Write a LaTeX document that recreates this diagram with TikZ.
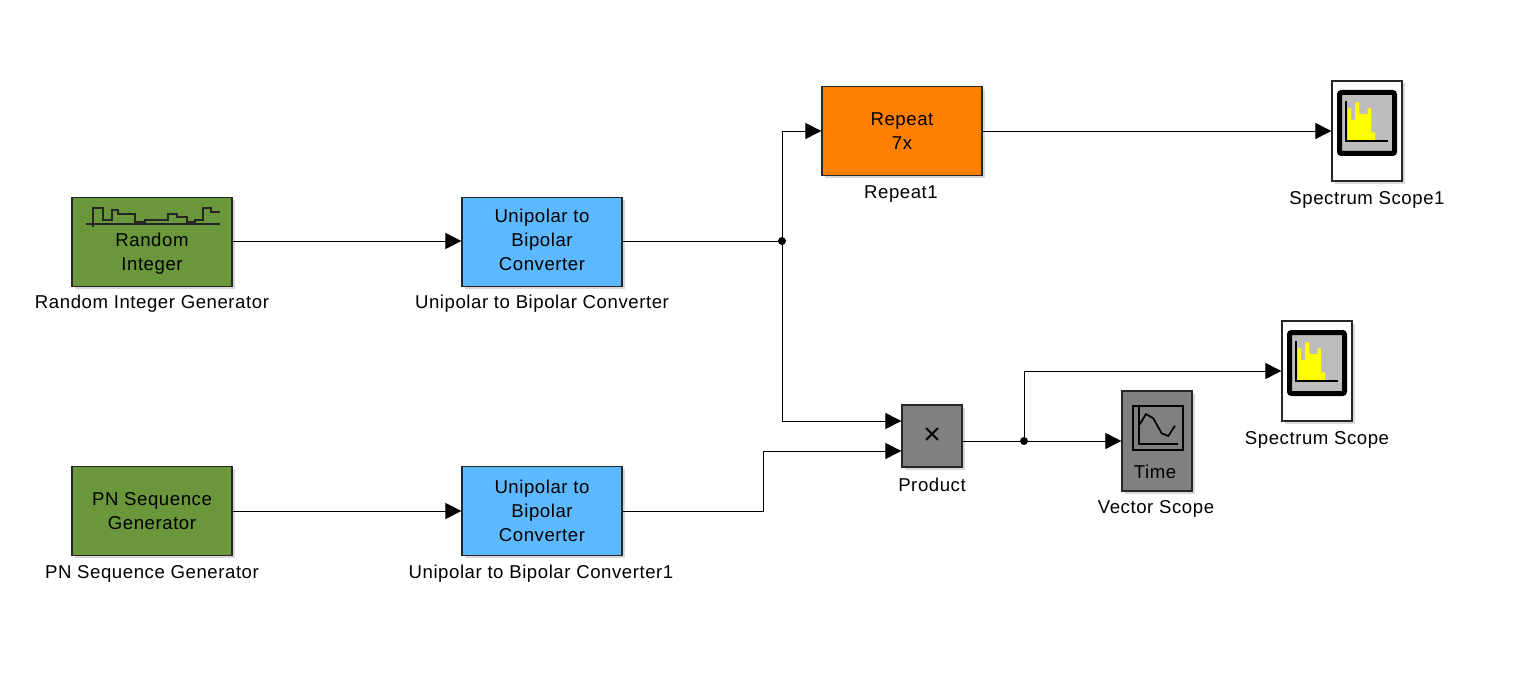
\documentclass[tikz,border=0pt]{standalone}
\usepackage{fontspec}
\setmainfont[LetterSpace=3]{Liberation Sans}
\usetikzlibrary{arrows.meta,shadows}
\definecolor{gengreen}{HTML}{6A963C}
\definecolor{convblue}{HTML}{5CB8FF}
\definecolor{reporange}{HTML}{FF7F00}
\definecolor{sinkgray}{HTML}{808080}
\definecolor{iconyellow}{HTML}{FFFF00}
\definecolor{icongray}{HTML}{BDBDBD}
\tikzset{
  block/.style={draw=black!85, line width=1.3pt, inner sep=0pt, align=center,
    text=black, drop shadow={shadow xshift=2.5pt, shadow yshift=-2.5pt, fill=black!30, opacity=0.5}},
  bigblock/.style={block, minimum width=160pt, minimum height=89pt},
  scopeblock/.style={block, minimum width=70pt, minimum height=100pt},
  caption/.style={inner sep=0pt, text=black},
  blocktext/.style={inner sep=0pt, align=center, text=black},
  wire/.style={line width=0.9pt, line join=miter},
  feed/.style={wire, -{Triangle[length=16pt,width=16pt]}},
  joint/.style={circle, fill=black, inner sep=0pt, minimum size=8pt}
}
% the bar chart icon, drawn from the middle of a spectrum scope
\newcommand{\specicon}[1]{%
  \begin{scope}[shift={(#1.center)}]
    \draw[black, line width=5pt, fill=icongray, rounded corners=2pt] (-27.5,-38.5) rectangle (27.5,22.5);
    \fill[iconyellow] (-19.3,9) -- (-19.3,-22.7) -- (-16,-22.7) -- (-16,-11) -- (-12,-11) -- (-12,-28.7)
      -- (-7.7,-28.7) -- (-7.7,-17) -- (0.7,-17) -- (0.7,-22.7) -- (4,-22.7) -- (4,1.3) -- (8,1.3) -- (8,9) -- cycle;
    \draw[black, line width=1.3pt] (-21,-30) -- (-21,10) -- (21,10);
  \end{scope}}
\begin{document}
\begin{tikzpicture}[x=1pt, y=-1pt, font=\fontsize{18.6}{24}\selectfont, >=Stealth]
\useasboundingbox (0,0) rectangle (1521,682);
% sources and converters
\node[bigblock, fill=gengreen] (randgen) at (152,242) {};
\node[bigblock, fill=gengreen] (pngen) at (152,511) {PN Sequence\\Generator};
\node[bigblock, fill=convblue] (conv) at (542,242) {};
\node[bigblock, fill=convblue] (convone) at (542,511) {Unipolar to\\Bipolar\\Converter};
\node[bigblock, fill=reporange] (rep) at (902,131) {Repeat\\7x};
\node[block, fill=sinkgray, minimum width=60pt, minimum height=62pt, font=\fontsize{30}{30}\selectfont] (prod) at (932,436) {×};
% sinks
\node[scopeblock, fill=sinkgray] (vec) at (1157,441) {};
\node[scopeblock, fill=white] (specone) at (1367,131) {};
\node[scopeblock, fill=white] (spec) at (1317,371) {};
\specicon{specone}
\specicon{spec}
% texts set by hand inside the blocks
\node[blocktext] (randtxt) at (152,254) {Random\\Integer};
\node[blocktext] (convtxt) at (542,240) {Unipolar to\\Bipolar\\Converter};
\node[blocktext] (vectxt) at (1155,472) {Time};
% random integer icon
\begin{scope}[shift={(60,185)}, scale=1/3]
  \draw[black!85, line width=1.8pt] (98,125) |- (128,68) |- (155,105) |- (175,75) |- (225,88) |- (255,112) |- (325,105)
    |- (352,88) |- (382,95) |- (405,112) |- (428,105) |- (452,68) |- (480,80);
  \draw[black!85, line width=1.8pt] (78,117) -- (480,117);
\end{scope}
% time scope icon
\begin{scope}[shift={(880,310)}, scale=1/3]
  \draw[black, line width=1.7pt] (758,288) rectangle (910,420);
  \draw[black, line width=1.7pt] (778,288) -- (778,403) -- (893,403);
  \draw[black, line width=1.7pt] (778,345) -- (798,312) -- (820,325) -- (845,370) -- (865,378) -- (885,347);
\end{scope}
% captions
\node[caption] (randcap) at (152,304) {Random Integer Generator};
\node[caption] (convcap) at (542,304) {Unipolar to Bipolar Converter};
\node[caption] (pncap) at (152,574) {PN Sequence Generator};
\node[caption] (convonecap) at (541,574) {Unipolar to Bipolar Converter1};
\node[caption] (repcap) at (901,194) {Repeat1};
\node[caption] (speconecap) at (1367,200) {Spectrum Scope1};
\node[caption] (speccap) at (1317,440) {Spectrum Scope};
\node[caption] (prodcap) at (932,485) {Product};
\node[caption] (veccap) at (1156,509) {Vector Scope};
% ports and junctions
\node[joint] (jtop) at (782,241) {};
\node[joint] (jout) at (1024,441) {};
\coordinate (prodina) at (prod.west |- 0,421);
\coordinate (prodinb) at (prod.west |- 0,451);
\coordinate (prodout) at (prod.east |- jout);
\coordinate (bend) at (763,511);
% wires
\draw[feed] (randgen.east |- jtop) -- (conv.west |- jtop);
\draw[feed] (pngen.east) -- (convone.west);
\draw[wire] (conv.east |- jtop) -- (jtop);
\draw[feed] (jtop) |- (rep.west);
\draw[feed] (jtop) |- (prodina);
\draw[feed] (convone.east) -- (bend) |- (prodinb);
\draw[feed] (rep.east) -- (specone.west);
\draw[wire] (prodout) -- (jout);
\draw[feed] (jout) -- (vec.west);
\draw[feed] (jout) |- (spec.west);
\end{tikzpicture}
\end{document}
